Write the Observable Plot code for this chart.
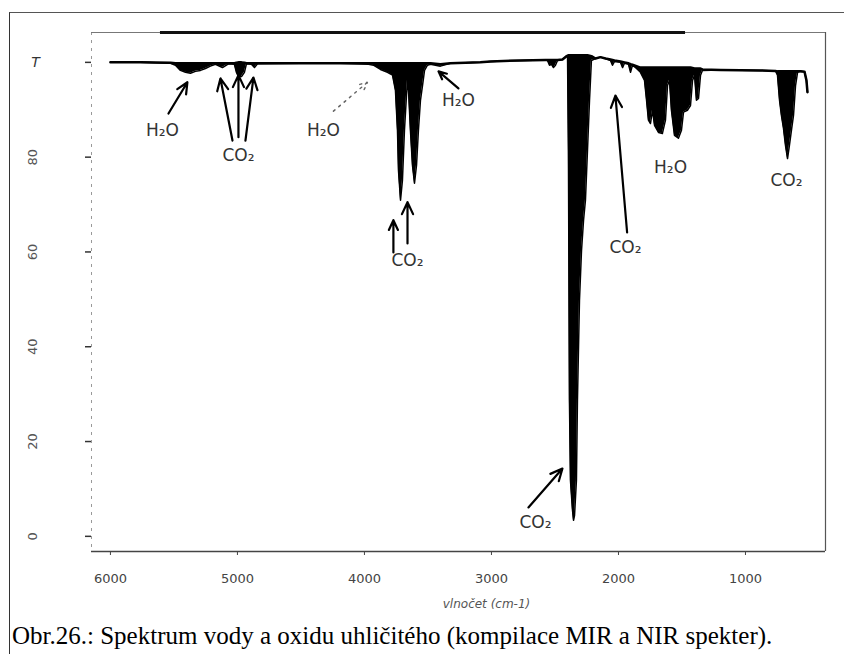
<!DOCTYPE html>
<html>
<head>
<meta charset="utf-8">
<script src="https://cdn.jsdelivr.net/npm/d3@7"></script>
<script src="https://cdn.jsdelivr.net/npm/@observablehq/plot@0.6"></script>
<style>
  body { margin: 0; background: #fff; }
  #wrap { position: relative; width: 844px; height: 654px; overflow: hidden; background: #fff; }
  #frame { position: absolute; left: 9px; top: 12px; width: 900px; height: 700px;
           border-left: 1.5px solid #333; border-top: 1.5px solid #555; box-sizing: border-box; }
  #chart { position: absolute; left: 0; top: 0; }
  #caption { position: absolute; left: 12px; top: 622px; font-family: "Liberation Serif", serif;
             font-size: 25px; color: #000; white-space: nowrap; }
</style>
</head>
<body>
<div id="wrap">
  <div id="frame"></div>
  <div id="chart"></div>
  <div id="caption">Obr.26.: Spektrum vody a oxidu uhličitého (kompilace MIR a NIR spekter).</div>
</div>
<script>
// Spectrum: wavenumber (cm-1), upper envelope T and lower envelope T (fine-structure minimum)
const wn = [6000,5764,5527,5488,5449,5409,5370,5331,5291,5252,5213,5173,5118,5071,5024,5008,4992,4968,4945,4929,4890,4866,4842,4504,4189,
  3968,3929,3874,3819,3779,3756,3740,3732,3716,3701,3685,3669,3661,3653,3638,3622,3606,3590,3575,3559,3543,3527,3504,3480,3402,3323,3087,3008,2772,
  2575,2559,2543,2527,2512,2496,2480,2441,2409,2401,2394,2386,2378,2362,2354,2346,2331,2323,2307,2291,2275,2260,2244,2228,2213,2181,2142,2102,
  2063,2047,2031,1984,1968,1953,1921,1905,1890,1858,1827,1795,1779,1764,1748,1732,1716,1685,1654,1630,1614,1598,1583,1559,1528,1504,1488,1457,1433,
  1417,1401,1386,1370,1354,1339,1197,882,764,748,732,717,701,685,669,654,638,622,606,590,567,535,520,512];
const tUpper = [100.0,100.0,99.9,99.8,99.8,99.8,99.8,99.8,99.8,99.8,99.8,99.8,99.8,99.8,99.8,99.9,100.0,100.0,99.9,99.8,99.8,99.8,99.8,99.8,99.8,
  99.8,99.8,99.8,99.8,99.8,99.8,99.8,99.8,99.8,99.8,99.8,99.8,99.8,99.8,99.8,99.8,99.8,99.8,99.8,99.8,99.8,99.8,99.8,99.8,99.6,99.8,100.0,100.2,100.4,
  100.5,100.5,100.5,100.5,100.5,100.5,100.5,100.6,101.3,101.4,101.5,101.5,101.5,101.5,101.5,101.5,101.5,101.5,101.5,101.5,101.5,101.5,101.5,101.4,101.3,100.8,101.1,100.8,
  100.6,100.5,100.4,100.2,100.1,100.0,99.8,99.6,99.5,99.2,98.9,98.9,98.9,98.9,98.9,98.9,98.9,98.9,98.9,98.9,98.9,98.9,98.9,98.9,98.9,98.9,98.9,98.9,98.9,
  98.8,98.7,98.7,98.7,98.7,98.5,98.4,98.3,98.2,98.1,98.1,98.1,98.1,98.1,98.1,98.1,98.1,98.1,98.1,98.1,98.1,98.0,96.2,93.7];
const tLower = [100.0,100.0,99.8,99.4,98.3,97.9,97.7,98.1,98.3,98.7,99.2,99.6,98.9,99.7,99.6,97.9,97.0,97.0,97.9,99.7,99.6,98.9,99.7,99.8,99.8,
  99.6,99.4,98.5,97.9,97.3,94.1,85.7,77.2,70.9,75.1,85.7,93.0,96.2,94.1,85.7,78.3,74.5,78.3,85.7,92.0,95.1,98.3,99.4,99.6,99.2,99.8,100.0,100.2,100.4,
  100.5,100.4,99.4,99.6,98.9,99.4,100.4,100.6,101.3,101.1,81.4,28.7,11.8,5.5,3.4,4.4,11.8,28.7,49.8,60.3,66.7,70.9,81.4,92.0,100.4,100.8,101.1,100.8,
  100.4,99.4,100.2,100.0,98.9,99.8,99.6,97.9,99.4,98.7,97.9,96.2,92.0,87.8,87.1,89.9,86.7,85.2,85.0,87.8,95.1,96.2,89.9,84.6,84.0,85.7,89.5,89.9,90.9,
  96.2,97.3,92.0,92.4,97.3,98.3,98.4,98.3,98.2,97.3,92.0,88.8,86.1,82.5,79.7,82.5,85.7,88.8,95.1,97.9,98.1,98.0,96.2,93.7];

// Axes
const xTicks = [6000, 5000, 4000, 3000, 2000, 1000];
const yTicks = [0, 20, 40, 60, 80, 100];
const yTickLabels = ["0", "20", "40", "60", "80", "T"];
const xTitle = "vlnočet (cm-1)";

// Annotations
const labelText = ["H₂O", "CO₂", "H₂O", "H₂O", "CO₂", "CO₂", "H₂O", "CO₂", "CO₂"];
const labelWn   = [5590, 4992, 4323, 3260, 3661, 1945, 1590, 677, 2653];
const labelT    = [85.7, 80.4, 85.7, 92.0, 58.2, 61.0, 77.8, 75.1, 2.95];

const arrowX1 = [5543, 5039, 4992, 4937, 3260, 3772, 3661, 1932, 2709];
const arrowY1 = [89.2, 83.5, 84.2, 83.5, 94.5, 59.9, 61.8, 64.1, 6.1];
const arrowX2 = [5394, 5134, 4992, 4874, 3417, 3772, 3661, 2024, 2441];
const arrowY2 = [95.8, 96.6, 97.3, 96.8, 98.1, 66.7, 70.5, 93.0, 14.3];
// dotted arrow
const dotArrowX1 = [4244], dotArrowY1 = [89.7], dotArrowX2 = [3976], dotArrowY2 = [95.8];

const xDomain = [6149, 370];
const yDomain = [-3.2, 106.3];

const spectrum = wn.map((w, i) => ({wn: w, up: tUpper[i], lo: tLower[i]}));
const labels = labelText.map((t, i) => ({t, x: labelWn[i], y: labelT[i]}));
const arrows = arrowX1.map((x1, i) => ({x1, y1: arrowY1[i], x2: arrowX2[i], y2: arrowY2[i]}));
const dotArrows = dotArrowX1.map((x1, i) => ({x1, y1: dotArrowY1[i], x2: dotArrowX2[i], y2: dotArrowY2[i]}));
const yLab = yTicks.map((v, i) => ({v, s: yTickLabels[i], x: xDomain[0]}));

const chart = Plot.plot({
  width: 844,
  height: 612,
  marginLeft: 91,
  marginRight: 19,
  marginTop: 32,
  marginBottom: 61,
  x: {domain: xDomain},
  y: {domain: yDomain},
  style: {background: "transparent", fontFamily: "DejaVu Sans"},
  marks: [
    // frame
    Plot.ruleX([xDomain[0]], {stroke: "#999", strokeWidth: 1, strokeDasharray: "3,5"}),
    Plot.ruleX([xDomain[1]], {stroke: "#555", strokeWidth: 1.2}),
    Plot.ruleY([yDomain[0]], {stroke: "#444", strokeWidth: 1.5}),
    Plot.ruleY([yDomain[1]], {stroke: "#777", strokeWidth: 1}),
    Plot.ruleY([{y: yDomain[1], x1: 5606, x2: 1472}], {y: "y", x1: "x1", x2: "x2", stroke: "#111", strokeWidth: 3}),
    // axes
    Plot.axisX({ticks: xTicks, tickSize: 4, tickPadding: 18, fontSize: 13, color: "#444",
                tickFormat: d => String(d), label: null}),
    Plot.axisY({ticks: yTicks, tickSize: 6, tickFormat: () => "", label: null, color: "#333", strokeWidth: 1.5}),
    Plot.text(yLab.filter(d => d.s !== "T"), {x: "x", y: "v", text: "s", dx: -59, rotate: -90,
                fontSize: 13, fill: "#555"}),
    Plot.text(yLab.filter(d => d.s === "T"), {x: "x", y: "v", text: "s", dx: -56,
                fontSize: 14, fontStyle: "italic", fill: "#333"}),
    Plot.text([xTitle], {x: 3039, y: yDomain[0], dy: 53, text: d => d, fontSize: 12,
                fontStyle: "italic", fill: "#555"}),
    // spectrum
    Plot.areaY(spectrum, {x: "wn", y1: "lo", y2: "up", fill: "#000"}),
    Plot.line(spectrum, {x: "wn", y: "up", stroke: "#000", strokeWidth: 2.5}),
    Plot.line(spectrum, {x: "wn", y: "lo", stroke: "#000", strokeWidth: 1.5}),
    // annotations
    Plot.arrow(arrows, {x1: "x1", y1: "y1", x2: "x2", y2: "y2", stroke: "#000", strokeWidth: 2.2,
                headLength: 9, headAngle: 50}),
    Plot.arrow(dotArrows, {x1: "x1", y1: "y1", x2: "x2", y2: "y2", stroke: "#666", strokeWidth: 1.5,
                strokeDasharray: "2,5", headLength: 8, headAngle: 50}),
    Plot.text(labels, {x: "x", y: "y", text: "t", fontSize: 17, fill: "#333"})
  ]
});
document.getElementById("chart").appendChild(chart);
</script>
</body>
</html>
